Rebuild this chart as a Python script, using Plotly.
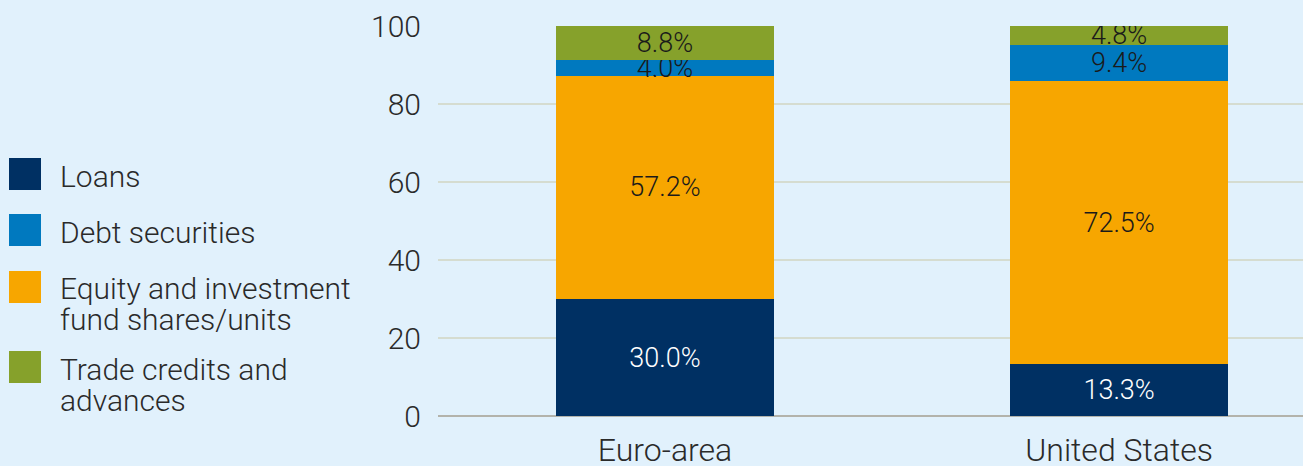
import plotly.graph_objects as go

categories = ["Euro-area", "United States"]
series_names = ["Loans", "Debt securities", "Equity and investment<br>fund shares/units", "Trade credits and<br>advances"]
loans = [30.0, 13.3]
debt = [4.0, 9.4]
equity = [57.2, 72.5]
trade = [8.8, 4.8]
y_ticks = [0, 20, 40, 60, 80, 100]

colors = ["#003063", "#0079bf", "#f7a600", "#86a12b"]
label_colors = ["#ffffff", "#1a1a1a", "#1a1a1a", "#1a1a1a"]
series_values = [loans, debt, equity, trade]
stack_order = [0, 2, 1, 3]  # bottom to top: loans, equity, debt, trade

FONT = "Roboto"
W, H = 1303, 466
ML, MR, MT, MB = 438, 0, 26, 50
PW, PH = W - ML - MR, H - MT - MB

fig = go.Figure()
for i in stack_order:
    fig.add_trace(go.Bar(
        x=categories, y=series_values[i], name=series_names[i].replace("<br>", " "),
        marker=dict(color=colors[i], line=dict(width=0)),
        width=0.48,
        texttemplate="%{y:.1f}%",
        textposition="inside",
        insidetextanchor="middle",
        textangle=0,
        constraintext="none",
        textfont=dict(family=FONT, size=27, color=label_colors[i], weight=300),
        showlegend=False,
        hoverinfo="skip",
    ))

def px_x(px):
    return (px - ML) / PW

def px_y(py):
    return (H - MB - py) / PH

# custom legend (layout decoration)
legend_boxes = [(158, 190), (214, 246), (271, 303), (351, 383)]
legend_line_centers = [[177], [232], [288, 319], [369, 400]]
shapes = []
annotations = []
for name, col, (t, b), centers in zip(series_names, colors, legend_boxes, legend_line_centers):
    shapes.append(dict(type="rect", xref="paper", yref="paper",
                       x0=px_x(9), x1=px_x(41), y0=px_y(b), y1=px_y(t),
                       fillcolor=col, line=dict(width=0)))
    for line, cy in zip(name.split("<br>"), centers):
        annotations.append(dict(xref="paper", yref="paper", x=px_x(58), y=px_y(cy),
                                xanchor="left", yanchor="middle", showarrow=False,
                                text=line, font=dict(family=FONT, size=30, color="#2a2a2a", weight=300)))

fig.update_layout(
    width=W, height=H, autosize=False,
    margin=dict(l=ML, r=MR, t=MT, b=MB, pad=0),
    barmode="stack",
    paper_bgcolor="#e1f1fc",
    plot_bgcolor="#e1f1fc",
    shapes=shapes,
    annotations=annotations,
    font=dict(family=FONT, color="#2a2a2a"),
    xaxis=dict(range=[-0.5, 1.405], showgrid=False, zeroline=False, showline=False,
               ticks="", tickfont=dict(family=FONT, size=32, color="#2a2a2a", weight=300),
               ticklabelstandoff=12, automargin=False, fixedrange=True),
    yaxis=dict(range=[0, 100], tickvals=y_ticks, showgrid=True, gridcolor="#d5dcd0", gridwidth=2,
               zeroline=True, zerolinecolor="#b3b3ab", zerolinewidth=2, showline=False,
               ticks="", tickfont=dict(family=FONT, size=30, color="#2a2a2a", weight=300),
               ticklabelstandoff=16, automargin=False, fixedrange=True),
)

fig.write_html("out.html", config={"displayModeBar": False},
               post_script="document.body.style.margin='0';document.body.style.overflow='hidden';")
